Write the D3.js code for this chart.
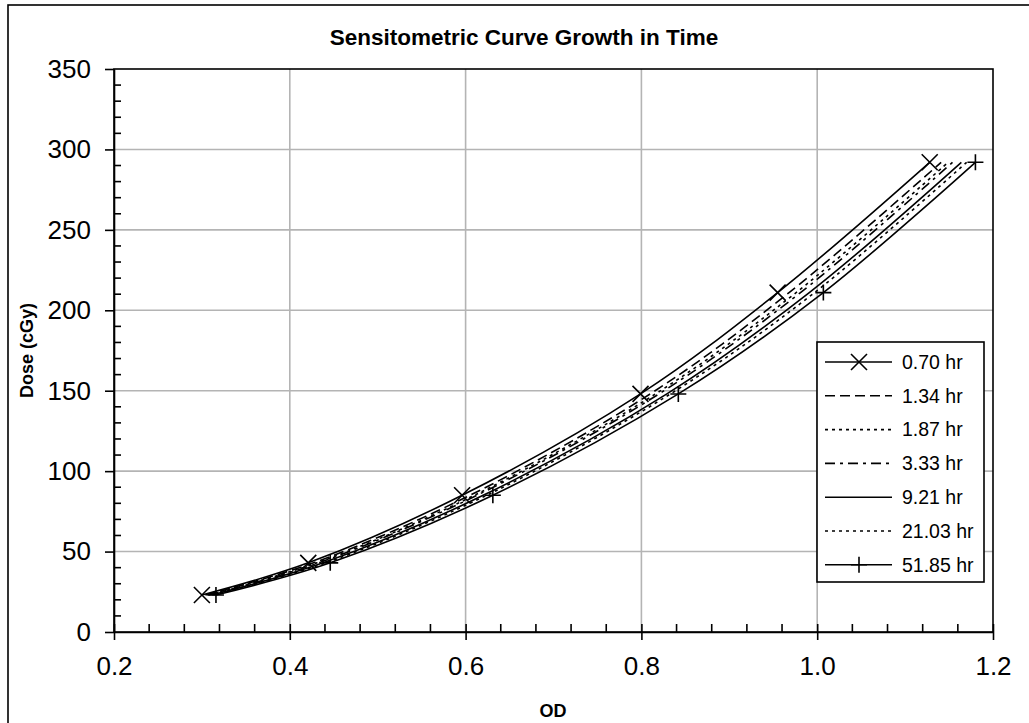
<!DOCTYPE html>
<html>
<head>
<meta charset="utf-8">
<script src="https://cdn.jsdelivr.net/npm/d3@7"></script>
<style>
  html, body { margin: 0; padding: 0; background: #fff; }
  svg { display: block; }
  text { font-family: "Liberation Sans", Arial, sans-serif; }
</style>
</head>
<body>
<svg id="chart" width="1029" height="723"></svg>
<script>
// ---- Data ----
const doses = [23, 43, 85, 148, 211, 292];
const seriesNames = ["0.70 hr", "1.34 hr", "1.87 hr", "3.33 hr", "9.21 hr", "21.03 hr", "51.85 hr"];
const od_070 = [0.300, 0.421, 0.596, 0.799, 0.955, 1.128];
const od_134 = [0.304, 0.427, 0.605, 0.810, 0.968, 1.141];
const od_187 = [0.306, 0.431, 0.610, 0.816, 0.976, 1.149];
const od_333 = [0.308, 0.433, 0.613, 0.820, 0.981, 1.154];
const od_921 = [0.311, 0.438, 0.620, 0.829, 0.991, 1.164];
const od_2103 = [0.313, 0.441, 0.624, 0.833, 0.997, 1.170];
const od_5185 = [0.316, 0.446, 0.631, 0.842, 1.007, 1.180];
const xTicks = [0.2, 0.4, 0.6, 0.8, 1.0, 1.2];
const yTicks = [0, 50, 100, 150, 200, 250, 300, 350];
const titleText = "Sensitometric Curve Growth in Time";
const xTitle = "OD";
const yTitle = "Dose (cGy)";

const seriesOD = [od_070, od_134, od_187, od_333, od_921, od_2103, od_5185];
const styles = [
  { dash: null, marker: "x" },
  { dash: "10,5", marker: null },
  { dash: "3,4", marker: null },
  { dash: "10,5,3,5", marker: null },
  { dash: null, marker: null },
  { dash: "3,4", marker: null },
  { dash: null, marker: "plus" }
];
const series = seriesNames.map((name, i) => ({
  name,
  values: doses.map((d, j) => ({ x: seriesOD[i][j], y: d })),
  ...styles[i]
}));

// ---- Layout ----
const svg = d3.select("#chart");
const W = 1029, H = 723;
const plot = { left: 114, right: 993, top: 69, bottom: 632 };

svg.append("rect").attr("width", W).attr("height", H).attr("fill", "#fff");
// outer chart border
svg.append("rect").attr("x", 8).attr("y", 5).attr("width", W + 20).attr("height", H + 20)
  .attr("fill", "none").attr("stroke", "#000").attr("stroke-width", 1.6);

const x = d3.scaleLinear().domain([0.2, 1.2]).range([plot.left, plot.right]);
const y = d3.scaleLinear().domain([0, 350]).range([plot.bottom, plot.top]);

// gridlines
const grid = svg.append("g");
grid.selectAll("line.gx").data(xTicks.slice(1, -1)).join("line")
  .attr("x1", d => x(d)).attr("x2", d => x(d))
  .attr("y1", plot.top).attr("y2", plot.bottom)
  .attr("stroke", "#b4b4b4").attr("stroke-width", 1.6);
grid.selectAll("line.gy").data(yTicks.slice(1, -1)).join("line")
  .attr("y1", d => y(d)).attr("y2", d => y(d))
  .attr("x1", plot.left).attr("x2", plot.right)
  .attr("stroke", "#b4b4b4").attr("stroke-width", 1.6);

// plot border
svg.append("rect").attr("x", plot.left).attr("y", plot.top)
  .attr("width", plot.right - plot.left).attr("height", plot.bottom - plot.top)
  .attr("fill", "none").attr("stroke", "#000").attr("stroke-width", 1.6);

// minor ticks (inside)
const xMinor = d3.range(0.2, 1.2001, 0.04).filter(v => Math.abs(Math.round(v * 5) - v * 5) > 1e-6);
const yMinor = d3.range(0, 350.01, 10).filter(v => v % 50 !== 0);
svg.append("g").selectAll("line").data(xMinor).join("line")
  .attr("x1", d => x(d)).attr("x2", d => x(d))
  .attr("y1", plot.bottom).attr("y2", plot.bottom - 8)
  .attr("stroke", "#000").attr("stroke-width", 1.6);
svg.append("g").selectAll("line").data(yMinor).join("line")
  .attr("y1", d => y(d)).attr("y2", d => y(d))
  .attr("x1", plot.left).attr("x2", plot.left + 7)
  .attr("stroke", "#000").attr("stroke-width", 1.6);

// X axis with cross major ticks
const xAxis = d3.axisBottom(x).tickValues(xTicks).tickFormat(d3.format(".1f"))
  .tickSizeInner(8).tickSizeOuter(0).tickPadding(26);
const gx = svg.append("g").attr("transform", `translate(0,${plot.bottom})`).call(xAxis);
gx.select(".domain").attr("stroke", "#000").attr("stroke-width", 1.6);
gx.selectAll(".tick line").attr("y1", -8).attr("stroke", "#000").attr("stroke-width", 1.6);
gx.selectAll(".tick text").attr("font-size", 26).attr("fill", "#000")
  .attr("font-family", "'Liberation Sans', Arial, sans-serif").attr("dy", "0.71em").attr("y", 25);

const yAxis = d3.axisLeft(y).tickValues(yTicks).tickFormat(d3.format("d"))
  .tickSizeInner(9).tickSizeOuter(0).tickPadding(14);
const gy = svg.append("g").attr("transform", `translate(${plot.left},0)`).call(yAxis);
gy.select(".domain").attr("stroke", "#000").attr("stroke-width", 1.6);
gy.selectAll(".tick line").attr("x1", 0).attr("stroke", "#000").attr("stroke-width", 1.6);
gy.selectAll(".tick text").attr("font-size", 26).attr("fill", "#000")
  .attr("font-family", "'Liberation Sans', Arial, sans-serif").attr("x", -23);

// series lines
const line = d3.line().x(d => x(d.x)).y(d => y(d.y)).curve(d3.curveCatmullRom.alpha(0.5));
const gs = svg.append("g");
series.forEach(s => {
  gs.append("path").datum(s.values).attr("d", line)
    .attr("fill", "none").attr("stroke", "#000").attr("stroke-width", 1.6)
    .attr("stroke-dasharray", s.dash);
});

function drawMarker(g, type, cx, cy) {
  const r = 8;
  if (type === "x") {
    g.append("path").attr("d", `M${cx - r},${cy - r}L${cx + r},${cy + r}M${cx - r},${cy + r}L${cx + r},${cy - r}`)
      .attr("stroke", "#000").attr("stroke-width", 1.6).attr("fill", "none");
  } else if (type === "plus") {
    g.append("path").attr("d", `M${cx - r},${cy}L${cx + r},${cy}M${cx},${cy - r}L${cx},${cy + r}`)
      .attr("stroke", "#000").attr("stroke-width", 1.6).attr("fill", "none");
  }
}
series.forEach(s => {
  if (!s.marker) return;
  s.values.forEach(d => drawMarker(gs, s.marker, x(d.x), y(d.y)));
});

// title & axis titles
svg.append("text").attr("x", 524).attr("y", 45).attr("text-anchor", "middle")
  .attr("font-size", 22.5).attr("font-weight", "bold").text(titleText);
svg.append("text").attr("x", 553).attr("y", 717).attr("text-anchor", "middle")
  .attr("font-size", 18).attr("font-weight", "bold").text(xTitle);
svg.append("text").attr("transform", `translate(33,${(plot.top + plot.bottom) / 2}) rotate(-90)`)
  .attr("text-anchor", "middle").attr("font-size", 18).attr("font-weight", "bold").text(yTitle);

// legend
const lg = svg.append("g");
const L = { x: 817, y: 342, w: 167, h: 240 };
lg.append("rect").attr("x", L.x).attr("y", L.y).attr("width", L.w).attr("height", L.h)
  .attr("fill", "#fff").attr("stroke", "#000").attr("stroke-width", 1.6);
series.forEach((s, i) => {
  const cy = L.y + 20 + i * 33.8;
  lg.append("line").attr("x1", 825).attr("x2", 892).attr("y1", cy).attr("y2", cy)
    .attr("stroke", "#000").attr("stroke-width", 1.6).attr("stroke-dasharray", s.dash);
  if (s.marker) drawMarker(lg, s.marker, 859, cy);
  lg.append("text").attr("x", 902).attr("y", cy).attr("dy", "0.35em")
    .attr("font-size", 19.5).text(s.name);
});
</script>
</body>
</html>
